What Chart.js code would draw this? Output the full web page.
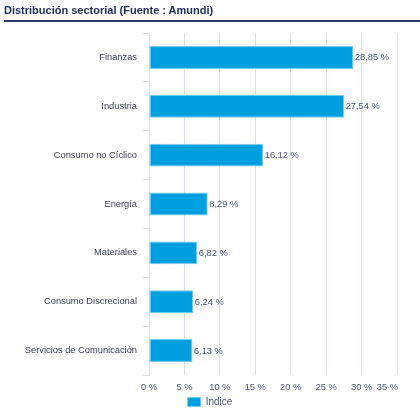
<!DOCTYPE html>
<html>
<head>
<meta charset="utf-8">
<script src="https://cdn.jsdelivr.net/npm/chart.js@4"></script>
<style>
  html, body { margin: 0; padding: 0; background: #ffffff; overflow: hidden; }
  #wrap { position: relative; width: 420px; height: 411px; overflow: hidden; }
  #title { position: absolute; left: 4px; top: 4px; font: bold 11px "Liberation Sans", Arial, sans-serif; color: #1d2a5c; white-space: nowrap; }
  #rule { position: absolute; left: 4px; right: 0; top: 20px; height: 2px; background: #2b3868; }
  #c { position: absolute; left: 0; top: 0; }
</style>
</head>
<body>
<div id="wrap">
  <canvas id="c" width="420" height="417"></canvas>
  <div id="title">Distribución sectorial (Fuente : Amundi)</div>
  <div id="rule"></div>
</div>
<script>
const categories = ["Finanzas", "Industria", "Consumo no Cíclico", "Energía", "Materiales", "Consumo Discrecional", "Servicios de Comunicación"];
const indiceValues = [28.85, 27.54, 16.12, 8.29, 6.82, 6.24, 6.13];
const seriesName = "Índice";
const xTickValues = [0, 5, 10, 15, 20, 25, 30, 35];

const FONT = '"Liberation Sans", Arial, sans-serif';
const TEXT = '#4a5677';
const GRID = '#d9e1ee';

function fmt(v) { return v.toFixed(2).replace('.', ',') + ' %'; }

const labelPlugin = {
  id: 'labels',
  afterDatasetsDraw(chart) {
    const ctx = chart.ctx;
    const meta = chart.getDatasetMeta(0);
    ctx.save();
    ctx.font = '9.3px ' + FONT;
    ctx.fillStyle = TEXT;
    ctx.textAlign = 'left';
    ctx.textBaseline = 'middle';
    meta.data.forEach((bar, i) => {
      ctx.fillText(fmt(indiceValues[i]), bar.x + 1.5, bar.y + 0.5);
    });
    // last x tick label, right-aligned to its grid line
    const xs = chart.scales.x;
    const last = xTickValues[xTickValues.length - 1];
    ctx.textAlign = 'right';
    ctx.textBaseline = 'middle';
    ctx.fillText(last + ' %', xs.getPixelForValue(last) + 1, chart.chartArea.bottom + 12.2);
    ctx.restore();
  }
};

new Chart(document.getElementById('c'), {
  type: 'bar',
  data: {
    labels: categories,
    datasets: [{
      label: seriesName,
      data: indiceValues,
      backgroundColor: '#009fe0',
      borderColor: '#74cdf3',
      borderWidth: 1,
      borderSkipped: false,
      categoryPercentage: 1,
      barPercentage: 0.47
    }]
  },
  options: {
    indexAxis: 'y',
    responsive: false,
    animation: false,
    devicePixelRatio: 1,
    layout: { padding: { top: 33, right: 0, left: 0, bottom: 0 } },
    scales: {
      x: {
        type: 'linear',
        min: 0, max: 35,
        afterBuildTicks(scale) { scale.ticks = xTickValues.map(v => ({ value: v })); },
        afterFit(scale) { scale.height = 22; scale.paddingRight = 23; },
        grid: { color: GRID, lineWidth: 1, drawTicks: false },
        border: { display: false },
        ticks: {
          padding: 6.5,
          font: { family: FONT, size: 9.3 },
          color: (c) => (c.tick && c.tick.value === xTickValues[xTickValues.length - 1]) ? 'rgba(0,0,0,0)' : TEXT,
          callback: (v) => v + ' %',
          maxRotation: 0,
          autoSkip: false
        }
      },
      y: {
        grid: { color: GRID, drawOnChartArea: false, tickLength: 6, offset: true },
        border: { display: true, color: GRID, width: 1 },
        ticks: { padding: 6, font: { family: FONT, size: 9.3 }, color: '#3d4356' },
        afterFit(scale) { scale.width = 149; }
      }
    },
    plugins: {
      legend: {
        position: 'bottom',
        labels: {
          boxWidth: 13, boxHeight: 9,
          font: { family: FONT, size: 10 },
          color: TEXT,
          padding: 0
        }
      },
      tooltip: { enabled: false }
    }
  },
  plugins: [labelPlugin]
});
</script>
</body>
</html>
